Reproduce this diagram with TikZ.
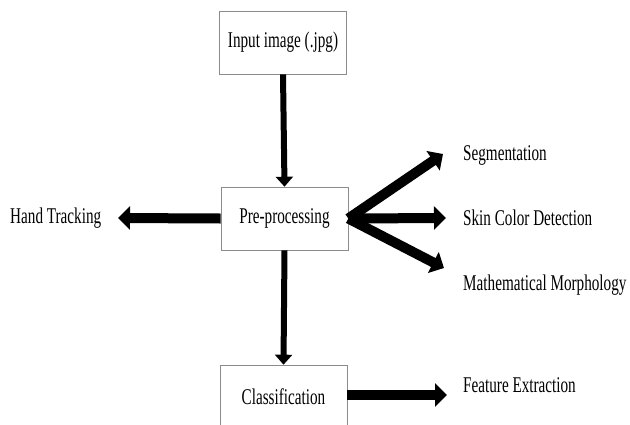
\documentclass[tikz,border=0pt]{standalone}
\usepackage{fontspec}
\setmainfont{Liberation Serif}
\usetikzlibrary{arrows.meta}
\newcommand{\tall}[1]{\scalebox{0.98}[1.45]{#1}}
\begin{document}
\begin{tikzpicture}[x=1pt,y=-1pt,
  box/.style={draw=black!45,line width=0.6pt,fill=white,minimum width=127pt,minimum height=63pt,inner sep=0pt,font=\fontsize{15.5}{15.5}\selectfont},
  lbl/.style={anchor=west,inner sep=0pt,font=\fontsize{15.5}{15.5}\selectfont},
  fat/.style={line width=10pt,-{Triangle[length=12pt,width=23pt]}},
  thin/.style={line width=6pt,-{Triangle[length=10pt,width=17pt]}}]
\useasboundingbox (0,0) rectangle (630,424);
\node[box] (inp) at (283,42.5) {\tall{Input image (.jpg)}};
\node[box] (pre) at (284.5,218.5) {\tall{Pre-processing}};
\node[box,minimum height=64pt] (cls) at (283.5,397) {\tall{Classification}};
\node[lbl] (ht) at (10,218) {\tall{Hand Tracking}};
\node[lbl] (seg) at (463,155) {\tall{Segmentation}};
\node[lbl] (skin) at (463,218) {\tall{Skin Color Detection}};
\node[lbl] (mm) at (463,285) {\tall{Mathematical Morphology}};
\node[lbl] (fe) at (463,385) {\tall{Feature Extraction}};
\coordinate (tseg) at (443,154);
\coordinate (tskin) at (446,218);
\coordinate (tmm) at (444,268);
\coordinate (tht) at (118,218);
\coordinate (tfe) at (447,395);
\draw[thin] (inp.south) -- (pre.north);
\draw[thin] (pre.south) -- (cls.north);
\draw[fat] (pre.west) -- (tht);
\draw[fat] (pre.east) -- (tskin);
\draw[fat] (pre.east) -- (tseg);
\draw[fat] (pre.east) -- (tmm);
\draw[fat] (cls.east|-tfe) -- (tfe);
\end{tikzpicture}
\end{document}
